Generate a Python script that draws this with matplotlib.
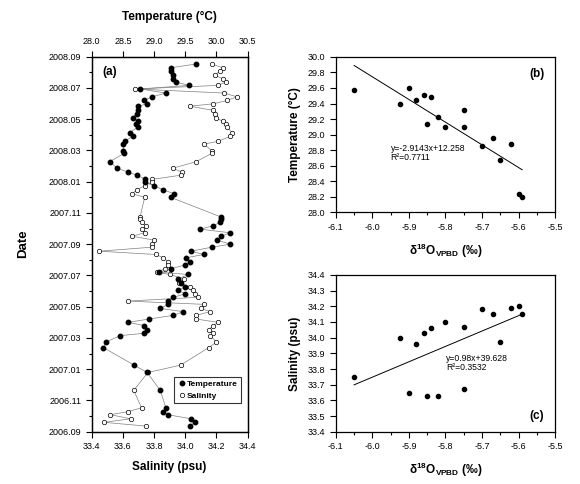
import numpy as np
import matplotlib
matplotlib.use('Agg')
import matplotlib.pyplot as plt
from matplotlib.ticker import MultipleLocator, FormatStrFormatter

plt.rcParams['font.family'] = ['Liberation Sans', 'DejaVu Sans']
plt.rcParams['mathtext.fontset'] = 'custom'
plt.rcParams['mathtext.rm'] = 'Liberation Sans:bold'
plt.rcParams['mathtext.bf'] = 'Liberation Sans:bold'

# ---- panel (a): time series, months since 2006.09 ----
months = [23.53, 23.29, 23.08, 22.80, 22.59, 22.37, 22.16, 21.93, 21.67, 21.43,
          21.20, 20.98, 20.83, 20.56, 20.36, 20.09, 19.85, 19.68, 19.49, 19.14,
          18.91, 18.58, 18.40, 17.99, 17.81, 17.28, 16.86, 16.60, 16.41, 16.15,
          15.98, 15.74, 15.49, 15.23, 14.99, 13.73, 13.60, 13.39, 13.17, 12.96,
          12.73, 12.51, 12.26, 12.00, 11.81, 11.55, 11.34, 11.13, 10.87, 10.66,
          10.43, 10.21, 10.06, 9.79, 9.51, 9.28, 9.04, 8.83, 8.60, 8.36,
          8.15, 7.89, 7.68, 7.45, 7.21, 7.00, 6.79, 6.51, 6.30, 6.15,
          5.74, 5.38, 4.26, 3.79, 2.64, 1.53, 1.28, 1.09, 0.83, 0.60, 0.36]
temperature = [29.68, 29.27, 29.27, 29.31, 29.31, 29.35, 29.56, 28.78, 29.19, 28.97,
               28.84, 28.89, 28.75, 28.75, 28.72, 28.66, 28.75, 28.71, 28.74, 28.61,
               28.66, 28.53, 28.51, 28.51, 28.52, 28.29, 28.41, 28.59, 28.73, 28.86,
               28.85, 29.00, 29.14, 29.32, 29.27, 30.08, 30.08, 30.06, 29.94, 29.74,
               30.22, 30.08, 30.01, 30.22, 29.93, 29.59, 29.80, 29.51, 29.58, 29.49,
               29.27, 29.08, 29.55, 29.39, 29.43, 29.50, 29.39, 29.50, 29.31, 29.23,
               29.23, 29.10, 29.47, 29.31, 28.92, 28.59, 28.84, 28.88, 28.84, 28.46,
               28.23, 28.19, 28.68, 28.89, 29.10, 29.19, 29.14, 29.22, 29.59, 29.65, 29.58]
salinity = [34.17, 34.24, 34.22, 34.19, 34.24, 34.26, 34.21, 33.68, 34.25, 34.33,
            34.27, 34.18, 34.03, 34.18, 34.19, 34.20, 34.24, 34.26, 34.27, 34.30,
            34.29, 34.21, 34.12, 34.17, 34.17, 34.07, 33.92, 33.98, 33.97, 33.79,
            33.79, 33.74, 33.69, 33.66, 33.74, 33.71, 33.71, 33.72, 33.75, 33.72,
            33.74, 33.66, 33.80, 33.79, 33.79, 33.45, 33.81, 33.86, 33.89, 33.89,
            33.87, 33.82, 33.90, 33.99, 33.96, 34.03, 34.05, 34.06, 34.08, 33.63,
            34.12, 34.10, 34.16, 34.07, 34.07, 34.21, 34.18, 34.15, 34.18, 34.16,
            34.20, 34.15, 33.97, 33.76, 33.67, 33.72, 33.63, 33.52, 33.65, 33.48, 33.75]
date_labels = ['2006.09', '2006.11', '2007.01', '2007.03', '2007.05', '2007.07', '2007.09',
               '2007.11', '2008.01', '2008.03', '2008.05', '2008.07', '2008.09']

# ---- panels (b), (c): d18O vs temperature / salinity ----
d18o = [-6.05, -5.925, -5.90, -5.88, -5.86, -5.85, -5.84, -5.82, -5.80,
        -5.75, -5.75, -5.70, -5.67, -5.65, -5.62, -5.60, -5.59]
temp_b = [29.58, 29.40, 29.60, 29.44, 29.51, 29.14, 29.49, 29.23, 29.10,
          29.32, 29.10, 28.86, 28.96, 28.68, 28.88, 28.24, 28.20]
sal_c = [33.75, 34.00, 33.65, 33.96, 34.03, 33.63, 34.06, 33.63, 34.10,
         34.07, 33.67, 34.18, 34.15, 33.97, 34.19, 34.20, 34.15]
fit_b = [-2.9143, 12.258]
fit_c = [0.98, 39.628]

fig = plt.figure(figsize=(5.8, 4.84), dpi=100)

tick_fs = 6.5
lab_fs = 8.5

# ---------- (a) ----------
ax = fig.add_axes([0.158, 0.108, 0.269, 0.775])
ax.plot(salinity, months, '-', color='gray', lw=0.5, zorder=1)
ls, = ax.plot(salinity, months, 'o', ls='none', mfc='white', mec='black', mew=0.5, ms=3.2, zorder=3)
ax.set_xlim(33.4, 34.4)
ax.set_ylim(0, 24)
ax.xaxis.set_major_locator(MultipleLocator(0.2))
ax.xaxis.set_major_formatter(FormatStrFormatter('%.1f'))
ax.set_yticks(np.arange(0, 25, 2))
ax.set_yticklabels(date_labels)
ax.yaxis.set_minor_locator(MultipleLocator(1))
ax.set_xlabel('Salinity (psu)', fontsize=lab_fs, fontweight='bold', labelpad=7)
ax.set_ylabel('Date', fontsize=lab_fs + 1, fontweight='bold', labelpad=14)
ax.tick_params(labelsize=tick_fs, direction='out', length=4, width=0.8)
ax.tick_params(which='minor', length=2.5, width=0.8)

axt = ax.twiny()
axt.plot(temperature, months, '-', color='gray', lw=0.5, zorder=1)
lt, = axt.plot(temperature, months, 'o', ls='none', color='black', ms=3.2, zorder=3)
axt.set_xlim(28.0, 30.5)
axt.xaxis.set_major_locator(MultipleLocator(0.5))
axt.xaxis.set_major_formatter(FormatStrFormatter('%.1f'))
axt.set_xlabel('Temperature (\u00b0C)', fontsize=lab_fs, fontweight='bold', labelpad=12)
axt.tick_params(labelsize=tick_fs, direction='out', length=4, width=0.8, pad=4)
for a in (ax, axt):
    for s in a.spines.values():
        s.set_linewidth(0.9)
axt.text(0.066, 0.96, '(a)', transform=axt.transAxes, fontsize=lab_fs, fontweight='bold',
         va='center', ha='left')
leg = axt.legend([lt, ls], ['Temperature', 'Salinity'], loc='lower right',
                 bbox_to_anchor=(0.985, 0.065), prop={'weight': 'bold', 'size': 6},
                 frameon=True, fancybox=False, edgecolor='black', handletextpad=0.1,
                 borderpad=0.4, handlelength=1.0, labelspacing=0.5)
leg.get_frame().set_linewidth(0.8)

xlab = '\u03b4$^{18}$O$_{\\mathrm{VPBD}}$ (\u2030)'


def style_scatter(a):
    a.set_xlim(-6.1, -5.5)
    a.xaxis.set_major_locator(MultipleLocator(0.1))
    a.xaxis.set_minor_locator(MultipleLocator(0.05))
    a.xaxis.set_major_formatter(FormatStrFormatter('%.1f'))
    a.tick_params(labelsize=tick_fs, direction='out', length=4, width=0.8)
    a.tick_params(which='minor', length=2.5, width=0.8)
    a.set_xlabel(xlab, fontsize=lab_fs, fontweight='bold', labelpad=7)
    for s in a.spines.values():
        s.set_linewidth(0.9)


xfit = np.array([d18o[0], d18o[-1]])

# ---------- (b) ----------
axb = fig.add_axes([0.579, 0.561, 0.378, 0.3215])
axb.plot(xfit, np.polyval(fit_b, xfit), color='black', lw=0.7)
axb.plot(d18o, temp_b, 'o', color='black', ms=3)
axb.set_ylim(28.0, 30.0)
axb.yaxis.set_major_locator(MultipleLocator(0.2))
axb.yaxis.set_major_formatter(FormatStrFormatter('%.1f'))
style_scatter(axb)
axb.set_ylabel('Temperature (\u00b0C)', fontsize=lab_fs, fontweight='bold', labelpad=5)
axb.text(-5.95, 28.88, 'y=-2.9143x+12.258\nR\u00b2=0.7711', fontsize=6.2, va='top', ha='left',
         linespacing=1.0)
axb.text(-5.55, 29.78, '(b)', fontsize=lab_fs, fontweight='bold', va='center', ha='center')

# ---------- (c) ----------
axc = fig.add_axes([0.579, 0.108, 0.378, 0.324])
axc.plot(xfit, np.polyval(fit_c, xfit), color='black', lw=0.7)
axc.plot(d18o, sal_c, 'o', color='black', ms=3)
axc.set_ylim(33.4, 34.4)
axc.yaxis.set_major_locator(MultipleLocator(0.1))
axc.yaxis.set_major_formatter(FormatStrFormatter('%.1f'))
style_scatter(axc)
axc.set_ylabel('Salinity (psu)', fontsize=lab_fs, fontweight='bold', labelpad=5)
axc.text(-5.798, 33.895, 'y=0.98x+39.628\nR\u00b2=0.3532', fontsize=6.2, va='top', ha='left',
         linespacing=1.0)
axc.text(-5.55, 33.5, '(c)', fontsize=lab_fs, fontweight='bold', va='center', ha='center')

fig.savefig('out.png', dpi=100)
